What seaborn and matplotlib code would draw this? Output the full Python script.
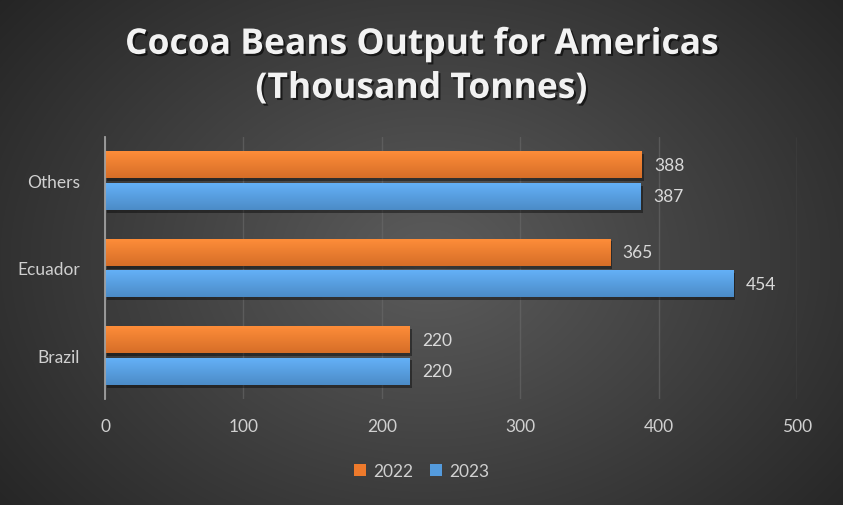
import numpy as np
import pandas as pd
import matplotlib
matplotlib.use("Agg")
import matplotlib.pyplot as plt
import matplotlib.patheffects as pe
from matplotlib.patches import Patch
import seaborn as sns

categories = ["Others", "Ecuador", "Brazil"]
years = ["2022", "2023"]
values_2022 = [388, 365, 220]
values_2023 = [387, 454, 220]
x_ticks = [0, 100, 200, 300, 400, 500]
title = "Cocoa Beans Output for Americas\n(Thousand Tonnes)"

colors = {"2022": "#EE7A2C", "2023": "#549BDD"}

df = pd.DataFrame({
    "Country": categories * 2,
    "Year": [years[0]] * 3 + [years[1]] * 3,
    "Output": values_2022 + values_2023,
})

sns.set_theme(style="dark")
plt.rcParams["font.family"] = ["Lato", "DejaVu Sans"]

fig = plt.figure(figsize=(8.43, 5.06), dpi=100)

# radial gradient background
bg = fig.add_axes([0, 0, 1, 1], zorder=-10)
yy, xx = np.mgrid[0:506, 0:843]
r = np.sqrt(((xx - 430) / 560.0) ** 2 + ((yy - 260) / 420.0) ** 2)
r = np.clip(r, 0, 1)
c_in = np.array([0x5c, 0x5c, 0x5c]) / 255.0
c_out = np.array([0x24, 0x24, 0x24]) / 255.0
img = c_in[None, None, :] * (1 - r[..., None]) + c_out[None, None, :] * r[..., None]
bg.imshow(img, aspect="auto", extent=[0, 1, 0, 1], origin="upper")
bg.set_axis_off()

ax = fig.add_axes([0.1246, 0.2095, 0.8208, 0.5178])
ax.set_facecolor("none")
ax.patch.set_alpha(0)

sns.barplot(data=df, y="Country", x="Output", hue="Year", order=categories,
            hue_order=years, palette=colors, orient="h", width=0.724, gap=0.14,
            ax=ax, legend=False, saturation=1, edgecolor="none")

ax.set_xlim(0, 500)
ax.set_ylim(2.5, -0.5)
ax.set_xticks(x_ticks)
ax.set_xticklabels([str(t) for t in x_ticks], color="#D0D0D0", fontsize=12.5)
ax.tick_params(axis="y", colors="#D0D0D0", labelsize=12.5, length=0, pad=18)
ax.tick_params(axis="x", length=0, pad=14)
ax.set_xlabel("")
ax.set_ylabel("")
ax.grid(axis="x", color="#6a6a6a", linewidth=1, alpha=0.6)
ax.grid(axis="y", visible=False)
ax.set_axisbelow(True)
for s in ["top", "right", "bottom"]:
    ax.spines[s].set_visible(False)
ax.spines["left"].set_color("#A0A0A0")
ax.spines["left"].set_linewidth(1.3)

# gradient shading on bars + shadow + labels
grad = np.linspace(0, 1, 64)[:, None]
for patch in ax.patches:
    w = patch.get_width()
    if w <= 0:
        continue
    fc = np.array(patch.get_facecolor()[:3])
    top = np.clip(fc * 1.08 + 0.04, 0, 1)
    bot = np.clip(fc * 0.9, 0, 1)
    g = top[None, None, :] * (1 - grad[..., None]) + bot[None, None, :] * grad[..., None]
    g = np.repeat(g, 2, axis=1)
    y0 = patch.get_y()
    h = patch.get_height()
    patch.set_path_effects([pe.SimplePatchShadow(offset=(1.5, -2), shadow_rgbFace="black", alpha=0.4), pe.Normal()])
    im = ax.imshow(g, extent=[patch.get_x(), patch.get_x() + w, y0 + h, y0],
                   aspect="auto", zorder=patch.get_zorder() + 0.1, interpolation="bilinear")
    im.set_clip_path(patch)
    ax.text(w + 9, y0 + h / 2, f"{int(round(w))}", va="center", ha="left",
            color="#D9D9D9", fontsize=12.5)

ax.set_xlim(0, 500)
ax.set_ylim(2.5, -0.5)

fig.suptitle(title, y=0.945, fontsize=25.5, fontweight="bold", color="#F2F2F2",
             linespacing=1.3, family=["Open Sans", "DejaVu Sans"],
             path_effects=[pe.withSimplePatchShadow(offset=(1.5, -1.5), shadow_rgbFace="black", alpha=0.6)])

handles = [Patch(facecolor=colors[y], edgecolor="none", label=y) for y in years]
leg = fig.legend(handles=handles, loc="center", bbox_to_anchor=(0.5, 0.067), ncol=2,
                 frameon=False, fontsize=12.5, handlelength=0.7, handleheight=0.7,
                 handletextpad=0.4, columnspacing=1.0)
for t in leg.get_texts():
    t.set_color("#D0D0D0")

fig.savefig("out.png", dpi=100)
